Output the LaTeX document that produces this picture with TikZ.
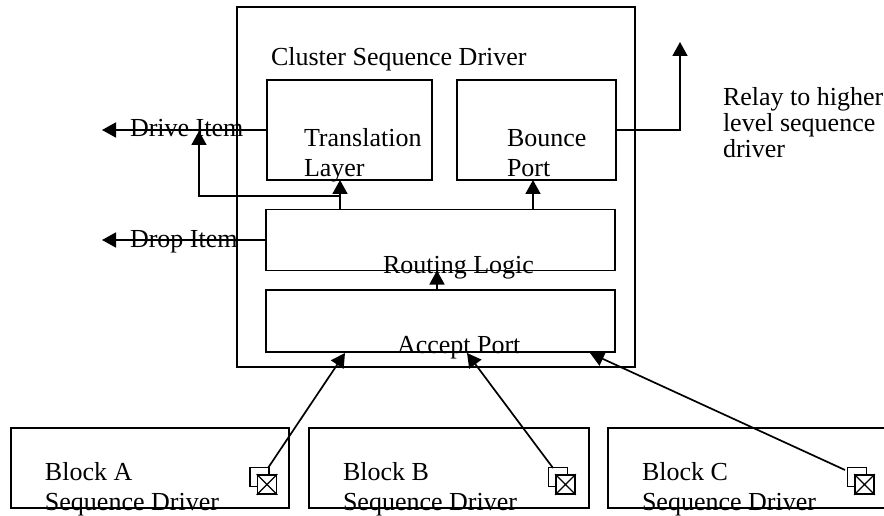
\documentclass[tikz,border=0pt]{standalone}
\usepackage{fontspec}
\setmainfont{Liberation Serif}
\usetikzlibrary{arrows.meta,calc}

\tikzset{
  box/.style={draw, line width=1.8pt, inner sep=0pt, outer sep=0pt},
  lbl/.style={anchor=base west, inner sep=0pt, outer sep=0pt,
              font=\fontsize{26}{30}\selectfont},
  conn/.style={line width=1.7pt},
  arr/.style={conn, -{Triangle[length=14pt,width=15pt]}},
  iconsq/.style={draw, line width=1.6pt, fill=white, inner sep=0pt,
                 minimum width=19pt, minimum height=19pt},
}

\begin{document}
\begin{tikzpicture}[x=1pt, y=-1pt]
\useasboundingbox (0,0) rectangle (884,516);
\clip (0,0) rectangle (884,516);

% cluster driver frame and its inner blocks
\node[box, minimum width=398pt, minimum height=360pt] (cluster) at (436,187) {};
\node[box, minimum width=165pt, minimum height=100pt] (trans) at (349.5,130) {};
\node[box, minimum width=159pt, minimum height=100pt] (bounce) at (536.5,130) {};
\node[box, minimum width=349pt, minimum height=61pt] (routing) at (440.5,240) {};
\node[box, minimum width=349pt, minimum height=62pt] (accept) at (440.5,321) {};

% block sequence drivers
\node[box, minimum width=278pt, minimum height=80pt] (blockA) at (150,468) {};
\node[box, minimum width=280pt, minimum height=80pt] (blockB) at (449,468) {};
\node[box, minimum width=292pt, minimum height=80pt] (blockC) at (754,468) {};

% texts
\node[lbl] (tcluster) at (271,66) {Cluster Sequence Driver};
\node[lbl] (ttrans1) at (304,147) {Translation};
\node[lbl] (ttrans2) at (304,177) {Layer};
\node[lbl] (tbounce1) at (507,147) {Bounce};
\node[lbl] (tbounce2) at (507,177) {Port};
\node[lbl] (trouting) at (383,273) {Routing Logic};
\node[lbl] (taccept) at (397,353) {Accept Port};
\node[lbl] (tdrive) at (130,137) {Drive Item};
\node[lbl] (tdrop) at (130,247) {Drop Item};
\node[lbl] (trelay1) at (723,106) {Relay to higher};
\node[lbl] (trelay2) at (723,132) {level sequence};
\node[lbl] (trelay3) at (723,158) {driver};
\node[lbl] (tA1) at (45,480) {Block A};
\node[lbl] (tA2) at (45,510) {Sequence Driver};
\node[lbl] (tB1) at (343,480) {Block B};
\node[lbl] (tB2) at (343,510) {Sequence Driver};
\node[lbl] (tC1) at (642,480) {Block C};
\node[lbl] (tC2) at (642,510) {Sequence Driver};

% port icons: a plain square behind a crossed square
\node[iconsq] (iAb) at (259.5,477) {};
\node[iconsq] (iA) at (267,484.5) {};
\node[iconsq] (iBb) at (558,477) {};
\node[iconsq] (iB) at (565.5,484.5) {};
\node[iconsq] (iCb) at (857,477) {};
\node[iconsq] (iC) at (864.5,484.5) {};
\foreach \i in {iA,iB,iC}{
  \draw[line width=1.3pt] (\i.north west) -- (\i.south east)
                          (\i.north east) -- (\i.south west);
}

% free ends and branch points
\coordinate (driveTip) at (102,130);
\coordinate (dropTip) at (102,0);
\coordinate (driveJoin) at (199,131);
\coordinate (xTrans) at (340,0);
\coordinate (xBounce) at (533,0);
\coordinate (xRoute) at (437,0);
\coordinate (fork) at (340,196);
\coordinate (relayTip) at (680,42);
\coordinate (sA) at (268,468);
\coordinate (sB) at (553,468);
\coordinate (sC) at (845,470);
\coordinate (xA) at (345,353);
\coordinate (xB) at (467,353);
\coordinate (xC) at (590,353);

% connectors
\draw[arr] (trans.west) -- (driveTip);
\draw[arr] (routing.west) -- (routing.west -| dropTip);
\draw[arr] (xTrans |- routing.north) -- (xTrans |- trans.south);
\draw[arr] (fork) -| (driveJoin);
\draw[arr] (xBounce |- routing.north) -- (xBounce |- bounce.south);
\draw[arr] (xRoute |- accept.north) -- (xRoute |- routing.south);
\draw[arr] (bounce.east) -| (relayTip);
\draw[arr] (sA) -- (xA);
\draw[arr] (sB) -- (xB);
\draw[arr] (sC) -- (xC);
\end{tikzpicture}
\end{document}
